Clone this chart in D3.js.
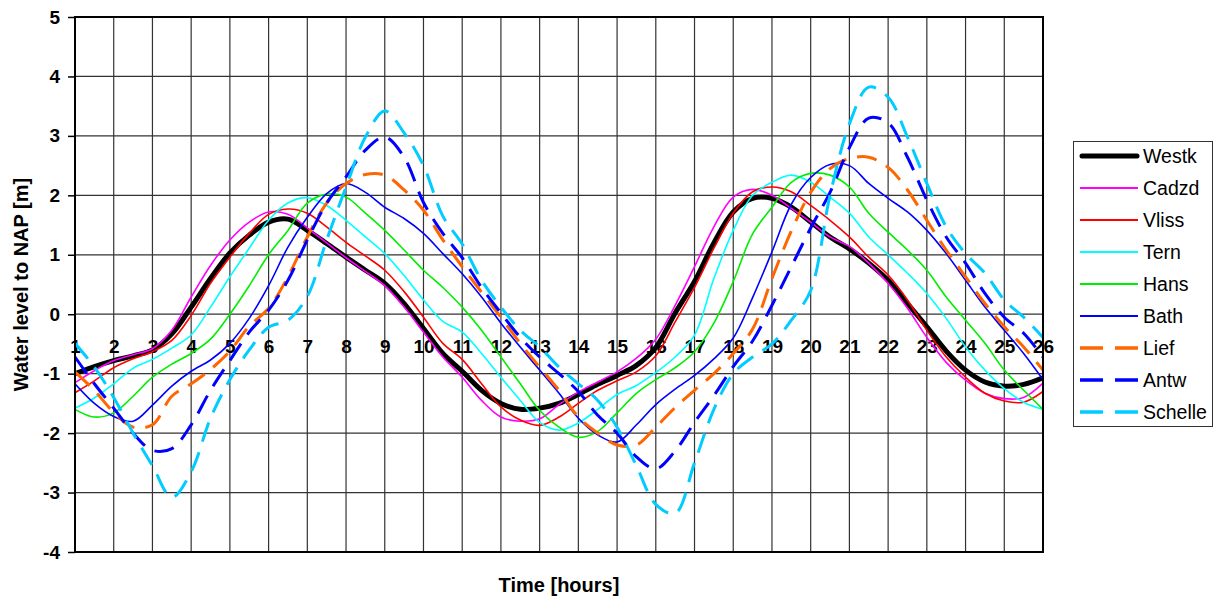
<!DOCTYPE html>
<html lang="en">
<head>
    <meta charset="utf-8">
    <title>Water levels</title>
    <script type="text/javascript" src="https://cdnjs.cloudflare.com/ajax/libs/d3/7.8.5/d3.min.js"></script>
    <style>
        body { margin: 0; background: #fff; }
        text { font-family: Arial, "Liberation Sans", sans-serif; }
    </style>
</head>
<body>
    <script type="text/javascript">
    // half hour readings
    var hours = [1,1.5,2,2.5,3,3.5,4,4.5,5,5.5,6,6.5,7,7.5,8,8.5,9,9.5,10,10.5,11,11.5,12,12.5,13,13.5,
                 14,14.5,15,15.5,16,16.5,17,17.5,18,18.5,19,19.5,20,20.5,21,21.5,22,22.5,23,23.5,24,24.5,25,25.5,26];

    var westk   = [-1.0,-0.88,-0.78,-0.7,-0.6,-0.33,0.12,0.6,1.03,1.33,1.55,1.6,1.41,1.19,0.96,0.74,0.52,0.18,-0.24,-0.66,
                   -0.96,-1.28,-1.5,-1.6,-1.58,-1.5,-1.35,-1.18,-1.03,-0.86,-0.56,0.02,0.55,1.2,1.72,1.95,1.95,1.8,1.55,1.3,
                   1.1,0.86,0.57,0.18,-0.21,-0.62,-0.94,-1.14,-1.21,-1.18,-1.07];
    var cadzd   = [-1.15,-0.95,-0.78,-0.68,-0.58,-0.27,0.29,0.82,1.25,1.55,1.72,1.68,1.45,1.2,0.95,0.72,0.48,0.12,-0.3,-0.72,
                   -1.06,-1.45,-1.73,-1.8,-1.76,-1.52,-1.31,-1.14,-0.97,-0.74,-0.42,0.15,0.8,1.47,1.97,2.1,2.0,1.78,1.55,1.3,
                   1.14,0.86,0.52,0.1,-0.39,-0.81,-1.11,-1.33,-1.42,-1.4,-1.16];
    var vliss   = [-1.32,-1.12,-0.9,-0.75,-0.63,-0.44,-0.02,0.52,0.96,1.36,1.68,1.77,1.7,1.47,1.21,0.98,0.74,0.38,-0.05,-0.49,
                   -0.76,-1.17,-1.56,-1.78,-1.87,-1.73,-1.5,-1.28,-1.12,-0.97,-0.7,-0.13,0.45,1.11,1.7,2.06,2.14,2.06,1.83,1.58,
                   1.3,0.96,0.66,0.24,-0.27,-0.72,-1.06,-1.33,-1.46,-1.48,-1.3];
    var tern    = [-1.58,-1.41,-1.17,-0.91,-0.76,-0.57,-0.35,0.12,0.63,1.11,1.58,1.87,1.96,1.83,1.58,1.3,1.02,0.65,0.24,-0.12,
                   -0.3,-0.66,-1.06,-1.45,-1.82,-1.95,-1.83,-1.6,-1.35,-1.2,-0.98,-0.72,-0.35,0.6,1.41,2.0,2.22,2.34,2.22,1.97,
                   1.7,1.3,1.0,0.69,0.35,-0.07,-0.55,-0.94,-1.25,-1.48,-1.6];
    var hans    = [-1.6,-1.73,-1.66,-1.38,-1.06,-0.84,-0.66,-0.42,0.0,0.48,1.0,1.41,1.87,2.02,1.97,1.7,1.41,1.08,0.74,0.45,
                   0.12,-0.27,-0.72,-1.17,-1.62,-1.9,-2.07,-1.97,-1.66,-1.33,-1.1,-0.9,-0.63,-0.15,0.55,1.35,1.8,2.22,2.37,2.34,
                   2.14,1.7,1.38,1.08,0.74,0.29,-0.1,-0.49,-0.94,-1.28,-1.6];
    var bath    = [-1.17,-1.5,-1.72,-1.8,-1.53,-1.21,-0.96,-0.77,-0.49,-0.07,0.48,1.13,1.63,2.03,2.2,2.05,1.8,1.61,1.36,1.02,
                   0.68,0.29,-0.15,-0.55,-0.94,-1.33,-1.75,-2.03,-2.15,-1.86,-1.52,-1.26,-1.03,-0.75,-0.4,0.28,1.05,1.85,2.3,2.52,
                   2.5,2.2,1.95,1.72,1.41,1.02,0.57,0.12,-0.27,-0.66,-1.1];
    var lief    = [-0.97,-1.28,-1.65,-1.9,-1.86,-1.38,-1.17,-0.93,-0.62,-0.2,0.1,0.63,1.3,1.87,2.2,2.35,2.34,2.09,1.75,1.25,
                   0.8,0.37,-0.05,-0.49,-0.89,-1.28,-1.73,-2.0,-2.2,-2.2,-1.9,-1.57,-1.28,-1.0,-0.66,-0.25,0.6,1.4,2.05,2.45,
                   2.62,2.64,2.47,2.09,1.58,1.08,0.63,0.18,-0.21,-0.55,-0.94];
    var antw    = [-0.72,-1.17,-1.58,-2.0,-2.29,-2.26,-1.86,-1.28,-0.78,-0.3,0.07,0.57,1.25,1.87,2.31,2.76,2.98,2.64,1.88,1.36,
                   0.95,0.45,0.02,-0.39,-0.72,-1.0,-1.3,-1.7,-2.0,-2.4,-2.6,-2.3,-1.82,-1.37,-0.88,-0.45,0.15,0.8,1.45,2.05,
                   2.8,3.3,3.22,2.64,1.92,1.3,0.86,0.35,-0.05,-0.32,-0.72];
    var schelle = [-0.49,-0.89,-1.4,-2.0,-2.55,-3.08,-2.65,-1.75,-1.1,-0.6,-0.22,-0.1,0.3,1.25,2.14,2.98,3.42,3.05,2.5,1.65,
                   1.18,0.57,0.12,-0.27,-0.55,-0.89,-1.17,-1.45,-1.9,-2.55,-3.2,-3.35,-2.5,-1.6,-1.0,-0.72,-0.5,-0.1,0.4,2.0,
                   3.2,3.82,3.65,2.98,2.2,1.47,1.02,0.69,0.24,-0.05,-0.39];

    var names   = ["Westk", "Cadzd", "Vliss", "Tern", "Hans", "Bath", "Lief", "Antw", "Schelle"];
    var colors  = ["#000000", "#ff00ff", "#ff0000", "#00ffff", "#00ee00", "#0000ff", "#ff6600", "#0000ff", "#00ccff"];
    var widths  = [5, 1.6, 1.6, 1.6, 1.6, 1.6, 3, 3, 3];
    var dashed  = [false, false, false, false, false, false, true, true, true];
    var values  = [westk, cadzd, vliss, tern, hans, bath, lief, antw, schelle];

    var yTicks = [-4, -3, -2, -1, 0, 1, 2, 3, 4, 5];

    //dimensions (plot box in page pixels)
    var width = 1226, height = 601,
        plotLeft = 75, plotRight = 1043, plotTop = 17, plotBottom = 552;

    var svg = d3.select("body")
                .append("svg")
                .attr("width", width)
                .attr("height", height);

    var x = d3.scaleLinear().domain([1, 26]).range([plotLeft, plotRight]);
    var y = d3.scaleLinear().domain([-4, 5]).range([plotBottom, plotTop]);

    //grid lines
    svg.append("g")
       .selectAll("line")
       .data(d3.range(1, 27))
       .enter()
       .append("line")
       .attr("x1", function(d) { return x(d); })
       .attr("x2", function(d) { return x(d); })
       .attr("y1", plotTop)
       .attr("y2", plotBottom)
       .attr("stroke", "#333")
       .attr("stroke-width", 1.2);

    svg.append("g")
       .selectAll("line")
       .data(yTicks)
       .enter()
       .append("line")
       .attr("x1", plotLeft)
       .attr("x2", plotRight)
       .attr("y1", function(d) { return y(d); })
       .attr("y2", function(d) { return y(d); })
       .attr("stroke", "#333")
       .attr("stroke-width", 1.2);

    //y axis
    var yAxis = d3.axisLeft(y)
                  .tickValues(yTicks)
                  .tickSize(7)
                  .tickPadding(8)
                  .tickFormat(function(d) { return String(d); });

    var gy = svg.append("g")
       .attr("transform", "translate(" + plotLeft + ",0)")
       .call(yAxis);
    gy.select(".domain").remove();
    gy.selectAll("line").attr("stroke", "#000").attr("stroke-width", 1.5);
    gy.selectAll("text")
      .attr("font-size", 19)
      .attr("font-weight", "bold")
      .attr("fill", "#000")
      .style("font-family", "Arial, 'Liberation Sans', sans-serif");

    //x labels sit under the zero line
    var xAxis = d3.axisBottom(x)
                  .tickValues(d3.range(1, 27))
                  .tickSize(0)
                  .tickPadding(25)
                  .tickFormat(function(d) { return String(d); });

    var gx = svg.append("g")
       .attr("transform", "translate(0," + y(0) + ")")
       .call(xAxis);
    gx.select(".domain").remove();
    gx.selectAll("text")
      .attr("font-size", 19)
      .attr("font-weight", "bold")
      .attr("fill", "#000")
      .style("font-family", "Arial, 'Liberation Sans', sans-serif");

    //series
    svg.append("clipPath")
       .attr("id", "plot")
       .append("rect")
       .attr("x", plotLeft)
       .attr("y", plotTop)
       .attr("width", plotRight - plotLeft)
       .attr("height", plotBottom - plotTop);

    var line = d3.line()
                 .x(function(d, i) { return x(hours[i]); })
                 .y(function(d) { return y(d); })
                 .curve(d3.curveCatmullRom.alpha(0.5));

    svg.append("g")
       .attr("clip-path", "url(#plot)")
       .selectAll("path")
       .data(values)
       .enter()
       .append("path")
       .attr("d", function(d) { return line(d); })
       .attr("fill", "none")
       .attr("stroke", function(d, i) { return colors[i]; })
       .attr("stroke-width", function(d, i) { return widths[i]; })
       .attr("stroke-linejoin", "round")
       .attr("stroke-dasharray", function(d, i) { return dashed[i] ? "20,11" : null; });

    //frame
    svg.append("rect")
       .attr("x", plotLeft)
       .attr("y", plotTop)
       .attr("width", plotRight - plotLeft)
       .attr("height", plotBottom - plotTop)
       .attr("fill", "none")
       .attr("stroke", "#000")
       .attr("stroke-width", 2);

    //axis titles
    svg.append("text")
       .attr("transform", "translate(28," + ((plotTop + plotBottom) / 2) + ") rotate(-90)")
       .attr("text-anchor", "middle")
       .attr("font-size", 20)
       .attr("font-weight", "bold")
       .text("Water level to NAP [m]");

    svg.append("text")
       .attr("x", (plotLeft + plotRight) / 2)
       .attr("y", 592)
       .attr("text-anchor", "middle")
       .attr("font-size", 20)
       .attr("font-weight", "bold")
       .text("Time [hours]");

    //legend
    var legend = svg.append("g");
    legend.append("rect")
          .attr("x", 1073.5)
          .attr("y", 141.5)
          .attr("width", 139)
          .attr("height", 285)
          .attr("fill", "#fff")
          .attr("stroke", "#333")
          .attr("stroke-width", 1);

    var item = legend.selectAll(".item")
          .data(names)
          .enter()
          .append("g")
          .attr("class", "item")
          .attr("transform", function(d, i) { return "translate(0," + (156 + i * 32) + ")"; });

    item.append("line")
        .attr("x1", function(d, i) { return i == 0 ? 1082 : 1080; })
        .attr("x2", function(d, i) { return i == 0 ? 1137 : 1138; })
        .attr("stroke", function(d, i) { return colors[i]; })
        .attr("stroke-width", function(d, i) { return i == 0 ? 5 : (dashed[i] ? 3.5 : 2); })
        .attr("stroke-linecap", function(d, i) { return i == 0 ? "round" : "butt"; })
        .attr("stroke-dasharray", function(d, i) { return dashed[i] ? "23,12" : null; });

    item.append("text")
        .attr("x", 1143)
        .attr("dy", "0.35em")
        .attr("font-size", 19.5)
        .text(function(d) { return d; });
    </script>
</body>
</html>
